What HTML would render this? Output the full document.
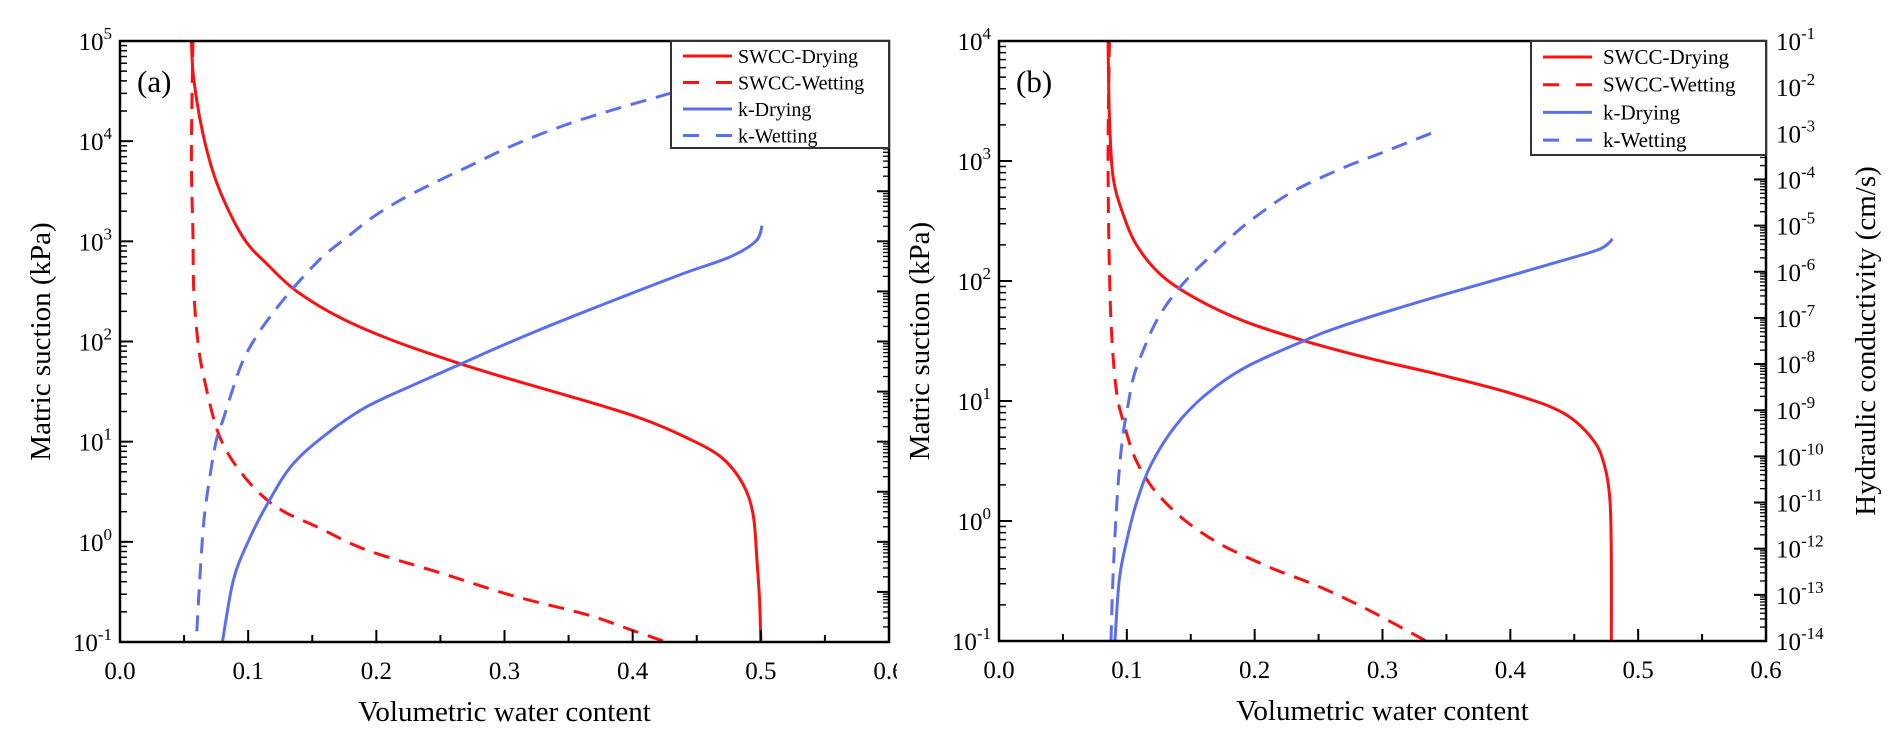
<!DOCTYPE html>
<html><head><meta charset="utf-8"><style>
html,body{margin:0;padding:0;background:#fff;}
svg{display:block;font-family:"Liberation Serif",serif;}
</style></head><body>
<svg id="fig" width="1892" height="746" viewBox="0 0 1892 746" xmlns="http://www.w3.org/2000/svg"></svg>
<script>
// Panel (a) data
const aSwccDryX=[0.0557,0.0576,0.0653,0.0768,0.096,0.115,0.138,0.173,0.215,0.265,0.307,0.365,0.407,0.442,0.469,0.486,0.494,0.497,0.499,0.5];
const aSwccDryLogS=[5,4.615,4.04,3.54,3.04,2.77,2.5,2.23,2.0,1.78,1.615,1.40,1.23,1.04,0.846,0.577,0.27,-0.19,-0.58,-1];
const aSwccWetX=[0.0569,0.0557,0.0569,0.0576,0.0615,0.0672,0.0749,0.0826,0.0922,0.1076,0.1268,0.1537,0.192,0.25,0.307,0.365,0.4,0.426];
const aSwccWetLogS=[5,3.85,3.08,2.5,1.92,1.54,1.15,0.92,0.73,0.5,0.31,0.15,-0.08,-0.31,-0.54,-0.73,-0.885,-1];
const aKWetX=[0.430,0.384,0.346,0.307,0.269,0.238,0.215,0.196,0.177,0.158,0.138,0.123,0.1076,0.096,0.0884,0.0807,0.0749,0.0692,0.0653,0.0622,0.0595];
const aKWetLogK=[-2.04,-2.38,-2.69,-3.08,-3.54,-3.92,-4.23,-4.54,-4.92,-5.31,-5.85,-6.31,-6.85,-7.38,-7.92,-8.54,-9.0,-9.85,-10.62,-11.77,-13.0];
const aKDryX=[0.501,0.496,0.476,0.442,0.403,0.365,0.327,0.292,0.265,0.2305,0.192,0.161,0.1345,0.1153,0.0999,0.0884,0.0799];
const aKDryLogK=[-4.69,-5.0,-5.31,-5.62,-6.0,-6.38,-6.77,-7.15,-7.46,-7.85,-8.31,-8.85,-9.46,-10.23,-11.0,-11.77,-13.0];
// Panel (b) data
const bSwccDryX=[0.0853,0.0864,0.0891,0.096,0.1076,0.1268,0.1537,0.192,0.238,0.288,0.346,0.403,0.442,0.465,0.474,0.478,0.479,0.479];
const bSwccDryLogS=[4,3.36,2.88,2.59,2.30,2.05,1.856,1.664,1.504,1.36,1.216,1.056,0.896,0.672,0.448,0.16,-0.32,-1];
const bSwccWetX=[0.0864,0.0853,0.0864,0.0884,0.0922,0.098,0.1056,0.1153,0.1268,0.146,0.173,0.2113,0.2497,0.288,0.334];
const bSwccWetLogS=[4,3.04,2.08,1.504,1.056,0.8,0.544,0.352,0.192,0,-0.192,-0.384,-0.544,-0.736,-1];
const bKWetX=[0.338,0.2997,0.269,0.2305,0.2036,0.1844,0.1652,0.1498,0.1345,0.1229,0.1133,0.1056,0.1007,0.096,0.0922,0.0891,0.0876];
const bKWetLogK=[-3.0,-3.42,-3.75,-4.25,-4.75,-5.17,-5.67,-6.08,-6.58,-7.08,-7.67,-8.25,-8.92,-9.75,-11,-12.67,-14];
const bKDryX=[0.480,0.4706,0.4418,0.3842,0.3265,0.2689,0.2382,0.1921,0.1614,0.1383,0.1191,0.1076,0.0999,0.0941,0.0907];
const bKDryLogK=[-5.29,-5.5,-5.75,-6.21,-6.67,-7.17,-7.5,-8.08,-8.67,-9.33,-10.17,-11,-11.83,-12.67,-14];
const xTickLabels=["0.0","0.1","0.2","0.3","0.4","0.5","0.6"];
const legendLabels=["SWCC-Drying","SWCC-Wetting","k-Drying","k-Wetting"];

const NS="http://www.w3.org/2000/svg";
const svg=document.getElementById('fig');
const RED="#ff1010", BLUE="#5a6ef0";
function mk(tag,attrs,parent){const e=document.createElementNS(NS,tag);for(const k in attrs)e.setAttribute(k,attrs[k]);(parent||svg).appendChild(e);return e;}

function panel(cfg){
  const g=mk('g',{});
  
  
  const {L,R,T,B}=cfg;
  const xs=v=>L+(v-0)/(0.6)*(R-L);
  const ys=lv=>T+(cfg.sTop-lv)/(cfg.sTop-cfg.sBot)*(B-T);
  const ks=lv=>T+(cfg.kTop-lv)/(cfg.kTop-cfg.kBot)*(B-T);
  const cid='clip'+cfg.id;
  const cp=mk('clipPath',{id:cid},g);mk('rect',{x:L,y:T,width:R-L,height:B-T},cp);
  const tcid='tclip'+cfg.id;
  const tcp=mk('clipPath',{id:tcid},g);mk('rect',{x:0,y:0,width:cfg.textClip,height:746},tcp);
  const series=[
    [cfg.swDryX,cfg.swDryY,ys,RED,null,'swcc-drying-line'],
    [cfg.swWetX,cfg.swWetY,ys,RED,'16 10','swcc-wetting-line'],
    [cfg.kDryX,cfg.kDryY,ks,BLUE,null,'k-drying-line'],
    [cfg.kWetX,cfg.kWetY,ks,BLUE,'16 10','k-wetting-line']];
  series.forEach(s=>{
    const pts=s[0].map((x,i)=>[xs(x),s[2](s[1][i])]);
    let d='M'+pts[0][0]+','+pts[0][1];
    for(let i=0;i<pts.length-1;i++){
      const p0=pts[Math.max(0,i-1)],p1=pts[i],p2=pts[i+1],p3=pts[Math.min(pts.length-1,i+2)];
      const c1=[p1[0]+(p2[0]-p0[0])/6,p1[1]+(p2[1]-p0[1])/6];
      const c2=[p2[0]-(p3[0]-p1[0])/6,p2[1]-(p3[1]-p1[1])/6];
      d+=' C'+c1[0]+','+c1[1]+' '+c2[0]+','+c2[1]+' '+p2[0]+','+p2[1];
    }
    const p=mk('path',{d:d,fill:'none',stroke:s[3],'stroke-width':3,'clip-path':'url(#'+cid+')'},g);
    if(s[4])p.setAttribute('stroke-dasharray',s[4]);
    
    
  });
  const fr=mk('rect',{x:L,y:T,width:R-L,height:B-T,fill:'none',stroke:'#000','stroke-width':2.5},g);
  
  
  for(let i=0;i<=12;i++){
    const v=i*0.05,x=xs(v),len=i%2?7:12;
    mk('line',{x1:x,y1:B,x2:x,y2:B-len,stroke:'#000','stroke-width':2},g);
  }
  xTickLabels.forEach((t,i)=>{
    const tx=mk('text',{x:xs(i*0.1),y:B+37,'font-size':25,'text-anchor':'middle','clip-path':'url(#'+tcid+')'},g);
    tx.textContent=t;
    
    
  });
  for(let e=cfg.sBot;e<=cfg.sTop;e++){
    const y=ys(e);
    mk('line',{x1:L,y1:y,x2:L+13,y2:y,stroke:'#000','stroke-width':2},g);
    if(e<cfg.sTop)for(let m=2;m<=9;m++){const yy=ys(e+Math.log10(m));mk('line',{x1:L,y1:yy,x2:L+7,y2:yy,stroke:'#000','stroke-width':1.5},g);}
    const t=mk('text',{x:L-8,y:y+9,'font-size':25,'text-anchor':'end'},g);
    t.innerHTML='10<tspan dy="-11" font-size="17">'+e+'</tspan>';
    
    
  }
  for(let e=cfg.kBot;e<=cfg.kTop;e++){
    const y=ks(e);
    mk('line',{x1:R,y1:y,x2:R-12,y2:y,stroke:'#000','stroke-width':2},g);
    if(e<cfg.kTop)for(let m=2;m<=9;m++){const yy=ks(e+Math.log10(m));mk('line',{x1:R,y1:yy,x2:R-6,y2:yy,stroke:'#000','stroke-width':1.3},g);}
    if(cfg.kLabels){
      const t=mk('text',{x:R+10,y:y+9,'font-size':25},g);
      t.innerHTML='10<tspan dy="-11" font-size="17">'+e+'</tspan>';
      
      
    }
  }
  const pl=mk('text',{x:L+17,y:T+51,'font-size':31},g);pl.textContent=cfg.label;
  
  
  const xt=mk('text',{x:(L+R)/2,y:B+79,'font-size':29,'text-anchor':'middle'},g);xt.textContent='Volumetric water content';
  
  
  const yt=mk('text',{x:0,y:0,'font-size':29,'text-anchor':'middle',transform:'translate('+(L-70)+','+((T+B)/2)+') rotate(-90)'},g);yt.textContent='Matric suction (kPa)';
  
  
  const lg=mk('g',{},g);
  
  
  const lb=cfg.leg;
  mk('rect',{x:lb.x,y:T,width:R-lb.x,height:lb.h,fill:'#fff',stroke:'#333','stroke-width':2},lg);
  legendLabels.forEach((t,i)=>{
    const y=T+lb.y0+i*lb.dy;
    const ln=mk('line',{x1:lb.x+12,y1:y,x2:lb.x+61,y2:y,stroke:i<2?RED:BLUE,'stroke-width':3},lg);
    if(i%2)ln.setAttribute('stroke-dasharray','16 17');
    const tx=mk('text',{x:lb.x+lb.tx,y:y+7,'font-size':lb.fs},lg);tx.textContent=t;
    
    
  });
}
panel({id:'a',name:'panel-a',L:120,R:889,T:41,B:642,sTop:5,sBot:-1,kTop:-1,kBot:-13,kLabels:false,label:'(a)',textClip:897,
  swDryX:aSwccDryX,swDryY:aSwccDryLogS,swWetX:aSwccWetX,swWetY:aSwccWetLogS,kDryX:aKDryX,kDryY:aKDryLogK,kWetX:aKWetX,kWetY:aKWetLogK,
  leg:{x:671,h:107,y0:15,dy:26.5,tx:67,fs:20}});
panel({id:'b',name:'panel-b',L:999,R:1766,T:41,B:641,sTop:4,sBot:-1,kTop:-1,kBot:-14,kLabels:true,label:'(b)',textClip:1892,
  swDryX:bSwccDryX,swDryY:bSwccDryLogS,swWetX:bSwccWetX,swWetY:bSwccWetLogS,kDryX:bKDryX,kDryY:bKDryLogK,kWetX:bKWetX,kWetY:bKWetLogK,
  leg:{x:1531,h:114,y0:16,dy:27.7,tx:72,fs:21}});
const rt=mk('text',{x:0,y:0,'font-size':29,'text-anchor':'middle',transform:'translate(1875,341) rotate(-90)'});
rt.textContent='Hydraulic conductivity (cm/s)';


</script>
</body></html>
